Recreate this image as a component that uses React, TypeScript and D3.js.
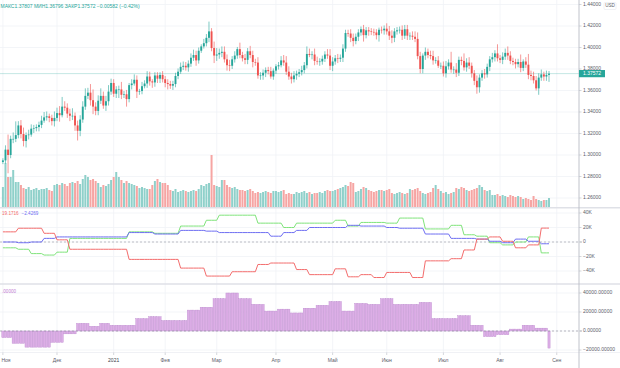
import React from "react";
import * as d3 from "d3";

// ---------- DATA ----------
const holidays = ["2020-12-25", "2021-01-01"];
const firstOpen = 1.2935;

// daily closes, Nov 2 2020 .. Aug 27 2021 (one line per month)
const closes = [
  1.2950, 1.3050, 1.3000, 1.3150, 1.3150, 1.3185, 1.3275, 1.3195, 1.3130, 1.3185, 1.3190, 1.3245, 1.3250, 1.3260, 1.3280, 1.3320, 1.3350, 1.3360, 1.3345, 1.3315, 1.3345,
  1.3390, 1.3370, 1.3450, 1.3440, 1.3385, 1.3365, 1.3365, 1.3275, 1.3225, 1.3330, 1.3450, 1.3550, 1.3580, 1.3510, 1.3450, 1.3410, 1.3505, 1.3550, 1.3460, 1.3500, 1.3590, 1.3670,
  1.3570, 1.3610, 1.3610, 1.3560, 1.3565, 1.3520, 1.3650, 1.3665, 1.3700, 1.3590, 1.3595, 1.3640, 1.3665, 1.3730, 1.3685, 1.3675, 1.3740, 1.3710, 1.3745, 1.3705,
  1.3670, 1.3660, 1.3645, 1.3660, 1.3735, 1.3775, 1.3820, 1.3830, 1.3815, 1.3850, 1.3905, 1.3930, 1.3880, 1.3970, 1.4010, 1.4040, 1.4090, 1.4150, 1.3995, 1.3925,
  1.3935, 1.3950, 1.3960, 1.3890, 1.3835, 1.3830, 1.3890, 1.3925, 1.3985, 1.3930, 1.3900, 1.3885, 1.3965, 1.3930, 1.3865, 1.3860, 1.3740, 1.3740, 1.3765, 1.3790, 1.3780, 1.3730, 1.3785,
  1.3825, 1.3835, 1.3880, 1.3860, 1.3775, 1.3730, 1.3705, 1.3740, 1.3755, 1.3770, 1.3790, 1.3835, 1.3940, 1.3930, 1.3935, 1.3875, 1.3870, 1.3870, 1.3895, 1.3935, 1.3925, 1.3830,
  1.3870, 1.3900, 1.3895, 1.3905, 1.3990, 1.4135, 1.4130, 1.4090, 1.4060, 1.4100, 1.4140, 1.4170, 1.4115, 1.4160, 1.4150, 1.4145, 1.4140, 1.4115, 1.4165, 1.4160, 1.4175,
  1.4150, 1.4110, 1.4090, 1.4150, 1.4160, 1.4165, 1.4110, 1.4170, 1.4110, 1.4110, 1.4100, 1.4080, 1.3920, 1.3800, 1.3925, 1.3960, 1.3930, 1.3920, 1.3880, 1.3880, 1.3830, 1.3830,
  1.3760, 1.3825, 1.3860, 1.3795, 1.3795, 1.3765, 1.3885, 1.3875, 1.3815, 1.3860, 1.3830, 1.3760, 1.3690, 1.3630, 1.3720, 1.3760, 1.3750, 1.3820, 1.3890, 1.3910, 1.3945, 1.3900,
  1.3885, 1.3915, 1.3950, 1.3925, 1.3875, 1.3865, 1.3845, 1.3865, 1.3810, 1.3870, 1.3840, 1.3745, 1.3735, 1.3695, 1.3620, 1.3720, 1.3750, 1.3730, 1.3745, 1.3757,
];

// upper wick above body, in pips
const upWick = [
  20, 40, 140, 30, 60, 128, 40, 50, 60, 25, 45, 40, 30, 25, 30, 45, 50, 45, 25, 30, 60,
  50, 65, 90, 50, 40, 45, 70, 30, 45, 40, 50, 70, 45, 80, 100, 40, 50, 70, 40, 50, 60, 40,
  35, 30, 35, 70, 30, 40, 20, 40, 50, 40, 20, 40, 30, 50, 45, 20, 30, 30, 25, 35,
  30, 35, 30, 30, 30, 30, 40, 40, 35, 30, 40, 50, 40, 30, 20, 40, 35, 91, 30, 60,
  60, 40, 50, 50, 45, 50, 30, 40, 20, 60, 30, 40, 30, 50, 40, 30, 50, 30, 30, 25, 30, 40, 20,
  20, 30, 40, 50, 60, 50, 35, 40, 30, 30, 40, 30, 70, 50, 30, 55, 40, 30, 30, 30, 50, 60,
  40, 30, 40, 30, 40, 30, 30, 40, 40, 30, 30, 25, 40, 30, 30, 30, 30, 30, 20, 30, 30,
  50, 50, 50, 30, 30, 30, 40, 40, 40, 30, 40, 50, 60, 40, 20, 40, 30, 40, 50, 30, 40, 30,
  40, 50, 30, 100, 30, 60, 30, 30, 70, 40, 50, 30, 30, 50, 30, 30, 40, 30, 30, 40, 30, 85,
  30, 40, 40, 60, 40, 30, 30, 30, 70, 20, 40, 100, 40, 40, 40, 40, 45, 25, 40, 24,
];

// lower wick below body, in pips
const downWick = [
  20, 30, 170, 30, 40, 30, 30, 40, 50, 60, 40, 20, 40, 30, 40, 30, 20, 30, 40, 40, 50,
  30, 60, 20, 30, 40, 50, 40, 50, 90, 50, 30, 30, 30, 50, 70, 40, 40, 30, 30, 50, 40, 30,
  30, 40, 80, 40, 30, 70, 30, 40, 20, 60, 30, 30, 20, 40, 40, 50, 40, 40, 40, 30,
  40, 50, 30, 40, 30, 30, 20, 30, 30, 40, 30, 30, 50, 30, 20, 20, 30, 40, 30, 70,
  50, 40, 40, 30, 50, 50, 30, 30, 30, 30, 30, 40, 40, 30, 50, 30, 30, 40, 40, 40, 30, 20, 30,
  30, 30, 20, 30, 30, 30, 40, 30, 40, 30, 30, 30, 30, 20, 40, 40, 30, 40, 30, 30, 30, 40,
  50, 30, 40, 30, 40, 30, 30, 40, 50, 30, 40, 30, 60, 30, 40, 30, 30, 40, 60, 30, 40,
  30, 40, 50, 40, 30, 30, 40, 30, 40, 40, 30, 30, 30, 40, 40, 40, 30, 30, 40, 30, 20, 30,
  30, 40, 30, 30, 40, 40, 30, 40, 30, 40, 30, 40, 40, 60, 50, 30, 40, 30, 40, 30, 40, 30,
  30, 40, 30, 40, 30, 30, 40, 30, 40, 30, 30, 40, 40, 30, 20, 60, 30, 40, 40, 65,
];

// tick volume (thousands)
const volumes = [
  20, 44, 30, 30, 37, 25, 25, 22, 19, 18, 20, 17, 18, 19, 17, 18, 18, 19, 17, 16, 22,
  23, 22, 24, 23, 21, 24, 25, 24, 26, 23, 28, 32, 30, 27, 28, 26, 24, 20, 22, 21, 23, 27,
  30, 35, 30, 27, 24, 26, 24, 23, 22, 21, 19, 20, 19, 18, 18, 22, 26, 28, 25, 24,
  24, 22, 17, 16, 18, 15, 16, 17, 16, 15, 16, 17, 16, 18, 22, 21, 23, 24, 52, 22,
  21, 20, 27, 27, 22, 20, 19, 20, 18, 17, 17, 16, 17, 18, 16, 14, 15, 14, 15, 16, 15, 14, 16,
  16, 15, 16, 17, 13, 14, 13, 13, 15, 14, 15, 16, 14, 15, 13, 14, 14, 15, 14, 16, 17, 16,
  16, 17, 18, 19, 20, 22, 21, 25, 24, 15, 16, 18, 20, 19, 17, 16, 15, 16, 17, 17, 16,
  17, 18, 14, 13, 14, 15, 14, 13, 14, 18, 17, 18, 19, 16, 14, 13, 14, 15, 19, 22, 18, 16,
  14, 15, 13, 14, 15, 19, 18, 20, 19, 17, 16, 17, 18, 19, 22, 20, 17, 16, 17, 12, 12, 13,
  11, 12, 11, 10, 12, 11, 10, 11, 10, 8, 9, 8, 7, 11, 8, 7, 6, 7, 7, 9,
];

// weekly COT report periods (start dates)
const cotDates = [
  "2020-11-02", "2020-11-06", "2020-11-13", "2020-11-20", "2020-11-27", "2020-12-04", "2020-12-11", "2020-12-18", "2020-12-24", "2020-12-31",
  "2021-01-08", "2021-01-15", "2021-01-22", "2021-01-29", "2021-02-05", "2021-02-12", "2021-02-19", "2021-02-26", "2021-03-05", "2021-03-12",
  "2021-03-19", "2021-03-26", "2021-04-02", "2021-04-09", "2021-04-16", "2021-04-23", "2021-04-30", "2021-05-07", "2021-05-14", "2021-05-21",
  "2021-05-28", "2021-06-04", "2021-06-11", "2021-06-18", "2021-06-25", "2021-07-02", "2021-07-09", "2021-07-16", "2021-07-23", "2021-07-30",
  "2021-08-06", "2021-08-13", "2021-08-20", "2021-08-27",
];
// net positions, thousands
const cotRed = [14, 19, 19, 12, 3, -10, -10, -10, -10, -10, -24, -24, -24, -24, -36, -36, -47, -47, -41, -41, -31, -29, -29, -38, -45, -45, -37, -48, -45, -49, -42, -42, -49, -26, -26, -23, -11, 4, 7, 1, -8, -4, 19.1716, 19.1716];
const cotGreen = [-8, -10, -16, -18, -14, 5, 5, 5, 5, 5, 14, 14, 12, 12, 22, 22, 30, 37, 37, 37, 26, 26, 20, 26, 26, 26, 30, 22, 27, 27, 26, 33, 33, 18, 18, 23, 10, 8, -1, -4, 0, 7, -15, -15];
const cotBlue = [0, -1, 0, 5, 7, 7, 7, 7, 7, 7, 13, 13, 11, 11, 16, 16, 15, 13, 13, 13, 13, 8, 13, 16, 20, 20, 20, 23, 22, 22, 20, 19, 19, 11, 11, 5, 5, 4, 1, -1, 4, 1, -2.4269, -2.4269];
// weekly change histogram
const histValues = [-7000, -13000, -17000, -17000, -12000, -3000, 8000, 5000, 8000, 6000, 6000, 13000, 15000, 11000, 11000, 22000, 25000, 34000, 40000, 34000, 28000, 21000, 23000, 19000, 24000, 27000, 31000, 21000, 29000, 28000, 34000, 28000, 28000, 30000, 13000, 13000, 16000, 6000, -6000, -4000, 2000, 6000, 3000, -18000];

const monthKeys = ["2020-11", "2020-12", "2021-01", "2021-02", "2021-03", "2021-04", "2021-05", "2021-06", "2021-07", "2021-08", "2021-09"];
const monthLabels = ["Ноя", "Дек", "2021", "Фев", "Мар", "Апр", "Май", "Июн", "Июл", "Авг", "Сен"];
const priceTicks = [1.26, 1.28, 1.3, 1.32, 1.34, 1.36, 1.38, 1.4, 1.42, 1.44];
const priceTickLabels = ["1.26000", "1.28000", "1.30000", "1.32000", "1.34000", "1.36000", "1.38000", "1.40000", "1.42000", "1.44000"];
const cotTicks = [40, 20, 0, -20, -40];
const cotTickLabels = ["40K", "20K", "0", "−20K", "−40K"];
const histTicks = [40000, 20000, 0, -20000];
const histTickLabels = ["40000.00000", "20000.00000", "0.00000", "−20000.00000"];
const headerParts = [
  { t: "МАКС", v: "1.37807" },
  { t: "МИН", v: "1.36796" },
  { t: "ЗАКР", v: "1.37572" },
];
const headerChange = "−0.00582 (−0.42%)";
const lastPriceLabel = "1.37572";
const cotLegend = ["19.1716", "−2.4269"];
const histLegend = ".00000";

// ---------- LAYOUT ----------
const W = 620, H = 368;
const AXIS_X = 579;
const FONT = "'Liberation Sans', Arial, sans-serif";
const UP = "#26a69a", DOWN = "#ef5350";

const fmt = d3.timeFormat("%Y-%m-%d");
const allDays = d3
  .timeDays(new Date(2020, 10, 2), new Date(2021, 8, 2))
  .filter((d) => d.getDay() !== 0 && d.getDay() !== 6 && !holidays.includes(fmt(d)));
const dayKeys = allDays.map(fmt);
const N = closes.length;

const xS = d3.scaleLinear().domain([0, N - 1]).range([2.9, 2.9 + 2.576 * (N - 1)]);
const yP = d3.scaleLinear().domain([1.26, 1.44]).range([198, 4.5]);
const yV = d3.scaleLinear().domain([0, 100]).range([207, 107]);
const yC = d3.scaleLinear().domain([-40, 40]).range([271, 213]);
const yH = d3.scaleLinear().domain([-20000, 40000]).range([350, 293]);

const periodStarts = cotDates.map((d) => dayKeys.indexOf(d));
const periodOf = (i: number) => {
  let k = 0;
  periodStarts.forEach((s, j) => {
    if (s <= i) k = j;
  });
  return k;
};

const monthIdx = monthKeys.map((m) => dayKeys.findIndex((k) => k.startsWith(m)));

export default function App() {
  const candles = closes.map((c, i) => {
    const o = i === 0 ? firstOpen : closes[i - 1];
    const hi = Math.max(o, c) + upWick[i] / 10000;
    const lo = Math.min(o, c) - downWick[i] / 10000;
    return { i, o, c, hi, lo, up: c >= o };
  });

  const lineFor = (arr: number[]) =>
    d3
      .line<number>()
      .x((_, i) => xS(i))
      .y((_, i) => yC(arr[periodOf(Math.max(0, i - 2))]))(closes.map((_, i) => i));

  const txt = { fontFamily: FONT, fontSize: 5, fill: "#5d606b" } as const;

  return (
    <svg width={W} height={H} style={{ position: "absolute", left: 0, top: 0, background: "#fff" }}>
      <rect x={0} y={0} width={W} height={H} fill="#fff" />
      {/* vertical grid */}
      {monthIdx.map((m, j) => (
        <line key={"vg" + j} x1={xS(m)} x2={xS(m)} y1={0} y2={352} stroke="#f0f2f6" strokeWidth={0.8} />
      ))}
      {/* horizontal grids */}
      {priceTicks.map((p, j) => (
        <line key={"hg" + j} x1={0} x2={AXIS_X} y1={yP(p)} y2={yP(p)} stroke="#f0f2f6" strokeWidth={0.8} />
      ))}
      {cotTicks.map((p, j) => (
        <line key={"cg" + j} x1={0} x2={AXIS_X} y1={yC(p)} y2={yC(p)} stroke="#f0f2f6" strokeWidth={0.8} />
      ))}
      {histTicks.map((p, j) => (
        <line key={"hhg" + j} x1={0} x2={AXIS_X} y1={yH(p)} y2={yH(p)} stroke="#f0f2f6" strokeWidth={0.8} />
      ))}

      {/* volume */}
      {candles.map((d) => (
        <rect
          key={"v" + d.i}
          x={xS(d.i) - 1}
          y={yV(volumes[d.i])}
          width={2}
          height={yV(0) - yV(volumes[d.i])}
          fill={d.up ? "#8fd0ca" : "#f6a5a3"}
        />
      ))}

      {/* last price line */}
      <line x1={0} x2={AXIS_X} y1={yP(closes[N - 1])} y2={yP(closes[N - 1])} stroke={UP} strokeOpacity={0.45} strokeWidth={0.6} />

      {/* candles */}
      {candles.map((d) => {
        const col = d.up ? UP : DOWN;
        const top = yP(Math.max(d.o, d.c));
        const bot = yP(Math.min(d.o, d.c));
        return (
          <g key={"c" + d.i}>
            <line x1={xS(d.i)} x2={xS(d.i)} y1={yP(d.hi)} y2={yP(d.lo)} stroke={col} strokeWidth={0.6} />
            <rect x={xS(d.i) - 0.95} y={top} width={1.9} height={Math.max(0.6, bot - top)} fill={col} />
          </g>
        );
      })}

      {/* COT pane */}
      <line x1={0} x2={583} y1={yC(0)} y2={yC(0)} stroke="#9598a1" strokeWidth={0.6} strokeDasharray="2,2" />
      <path d={lineFor(cotGreen) || ""} fill="none" stroke="#7fe37a" strokeWidth={1} />
      <path d={lineFor(cotBlue) || ""} fill="none" stroke="#6e6ef2" strokeWidth={1} />
      <path d={lineFor(cotRed) || ""} fill="none" stroke="#f36c6c" strokeWidth={1} />

      {/* histogram pane */}
      {candles.map((d) => {
        const v = histValues[periodOf(d.i)];
        const y0 = yH(0), y1 = yH(v);
        return (
          <rect
            key={"h" + d.i}
            x={xS(d.i) - 1.1}
            y={Math.min(y0, y1)}
            width={2.2}
            height={Math.abs(y1 - y0)}
            fill="#dcaee6"
            stroke="#be8ccf"
            strokeWidth={0.4}
          />
        );
      })}
      <line x1={0} x2={583} y1={yH(0)} y2={yH(0)} stroke="#8c8c99" strokeWidth={0.6} strokeDasharray="2,2" />

      {/* separators */}
      <line x1={0} x2={W} y1={207.8} y2={207.8} stroke="#dfe1e7" strokeWidth={1.6} />
      <line x1={0} x2={W} y1={284} y2={284} stroke="#dfe1e7" strokeWidth={1.6} />
      <line x1={0} x2={W} y1={352.5} y2={352.5} stroke="#eceef2" strokeWidth={0.8} />
      <line x1={AXIS_X} x2={AXIS_X} y1={0} y2={H} stroke="#b9bcc5" strokeWidth={0.9} />

      {/* price axis */}
      {priceTicks.map((p, j) => (
        <g key={"pt" + j}>
          <line x1={AXIS_X} x2={AXIS_X + 2.5} y1={yP(p)} y2={yP(p)} stroke="#b9bcc5" strokeWidth={0.6} />
          <text x={583} y={yP(p)} dominantBaseline="middle" {...txt}>
            {priceTickLabels[j]}
          </text>
        </g>
      ))}
      <rect x={604} y={2.5} width={12} height={7} fill="#fff" stroke="#e0e3eb" strokeWidth={0.5} rx={1} />
      <text x={610} y={6.2} textAnchor="middle" dominantBaseline="middle" {...txt} fontSize={4.6}>
        USD
      </text>
      <rect x={AXIS_X} y={yP(closes[N - 1]) - 3.6} width={26} height={7.2} fill={UP} />
      <text x={583} y={yP(closes[N - 1])} dominantBaseline="middle" {...txt} fill="#fff">
        {lastPriceLabel}
      </text>

      {/* COT axis */}
      {cotTicks.map((p, j) => (
        <g key={"ct" + j}>
          <line x1={AXIS_X} x2={AXIS_X + 2.5} y1={yC(p)} y2={yC(p)} stroke="#b9bcc5" strokeWidth={0.6} />
          <text x={583} y={yC(p)} dominantBaseline="middle" {...txt}>
            {cotTickLabels[j]}
          </text>
        </g>
      ))}
      {/* histogram axis */}
      {histTicks.map((p, j) => (
        <g key={"ht" + j}>
          <line x1={AXIS_X} x2={AXIS_X + 2.5} y1={yH(p)} y2={yH(p)} stroke="#b9bcc5" strokeWidth={0.6} />
          <text x={583} y={yH(p)} dominantBaseline="middle" {...txt}>
            {histTickLabels[j]}
          </text>
        </g>
      ))}

      {/* time axis */}
      {monthIdx.map((m, j) => (
        <g key={"mt" + j}>
          <line x1={xS(m)} x2={xS(m)} y1={352.5} y2={355} stroke="#b9bcc5" strokeWidth={0.6} />
          <text
            x={Math.max(xS(m), 6)}
            y={361}
            textAnchor="middle"
            dominantBaseline="middle"
            {...txt}
            fill={j === 2 ? "#3b3e48" : "#5d606b"}
          >
            {monthLabels[j]}
          </text>
        </g>
      ))}

      {/* legends */}
      <text x={0.5} y={6.8} dominantBaseline="middle" fontFamily={FONT} fontSize={5} fill={UP}>
        {headerParts.map((h, j) => (
          <tspan key={"hp" + j}>
            {h.t}
            {h.v}
            {"  "}
          </tspan>
        ))}
        <tspan>{headerChange}</tspan>
      </text>
      <text x={2} y={213.5} dominantBaseline="middle" fontFamily={FONT} fontSize={4.6}>
        <tspan fill="#f36c6c">{cotLegend[0]}</tspan>
        <tspan fill="#6e6ef2" dx={3}>
          {cotLegend[1]}
        </tspan>
      </text>
      <text x={2} y={292} dominantBaseline="middle" fontFamily={FONT} fontSize={4.6} fill="#c27bd2">
        {histLegend}
      </text>
    </svg>
  );
}
